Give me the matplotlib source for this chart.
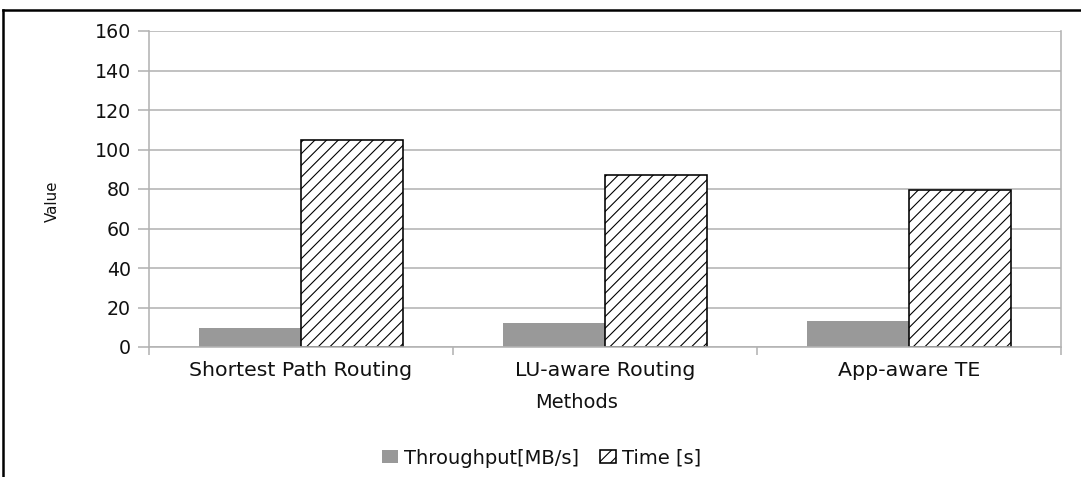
import numpy as np
import matplotlib
matplotlib.use("Agg")
import matplotlib.pyplot as plt
from matplotlib.lines import Line2D

# Data
methods = ["Shortest Path Routing", "LU-aware Routing", "App-aware TE"]
throughput = [9.5, 12, 13]
time_s = [105, 87, 79.5]
y_ticks = [0, 20, 40, 60, 80, 100, 120, 140, 160]
series_labels = ["Throughput[MB/s]", "Time [s]"]

DPI = 140
W, H = 1081, 477


def pt(px):
    """Convert a pixel size to points at the figure dpi."""
    return px * 72.0 / DPI


plt.rcParams["font.family"] = ["DejaVu Sans"]
plt.rcParams["hatch.linewidth"] = pt(1.1)
plt.rcParams["hatch.color"] = "black"

GRID = "#b3b3b3"

fig = plt.figure(figsize=(W / DPI, H / DPI), dpi=DPI)
ax = fig.add_axes([149 / W, (H - 347) / H, 912 / W, 316 / H])

x = np.arange(len(methods))
w = 0.335
ax.bar(x - w / 2, throughput, w, color="#999999", edgecolor="none",
       label=series_labels[0], zorder=2)
ax.bar(x + w / 2, time_s, w, facecolor="white", edgecolor="black",
       hatch="////", linewidth=pt(1.6), label=series_labels[1], zorder=2)

ax.set_xlim(-0.5, len(methods) - 0.5)
ax.set_ylim(0, 160)
ax.set_yticks(y_ticks)
ax.set_yticklabels([str(v) for v in y_ticks], fontsize=pt(19))
ax.yaxis.grid(True, color=GRID, linewidth=pt(1.6))
ax.set_axisbelow(True)
ax.tick_params(axis="y", direction="out", length=pt(11), width=pt(1.6),
               color=GRID, pad=pt(7), labelcolor="#111111")

ax.set_xticks(x)
ax.set_xticklabels(methods, fontsize=pt(20.5))
ax.tick_params(axis="x", which="major", length=0, pad=pt(14),
               labelcolor="#111111")
ax.set_xticks(np.arange(len(methods) + 1) - 0.5, minor=True)
ax.tick_params(axis="x", which="minor", direction="out", length=pt(8),
               width=pt(1.6), color=GRID)

for side in ("left", "right", "bottom"):
    ax.spines[side].set_color(GRID)
    ax.spines[side].set_linewidth(pt(1.6))
ax.spines["top"].set_visible(False)

fig.text(576.5 / W, 1 - 403 / H, "Methods", ha="center", va="center",
         fontsize=pt(19.4), color="#111111")
fig.text(52 / W, 1 - 201 / H, "Value", rotation=90, ha="center",
         va="center", fontsize=pt(15), color="#111111")

fig.legend(loc="center", bbox_to_anchor=(541.5 / W, 1 - 458 / H), ncol=2,
           frameon=False, fontsize=pt(19.5), handlelength=0.8,
           handleheight=0.6, handletextpad=0.3, columnspacing=1.1,
           labelcolor="#111111")

# Frame lines along the top and left edges
fig.add_artist(Line2D([3 / W, 1], [1 - 10 / H, 1 - 10 / H], color="black",
                      linewidth=pt(2.5), transform=fig.transFigure))
fig.add_artist(Line2D([3 / W, 3 / W], [0, 1 - 10 / H], color="black",
                      linewidth=pt(2.5), transform=fig.transFigure))

fig.savefig("out.png", dpi=DPI)
